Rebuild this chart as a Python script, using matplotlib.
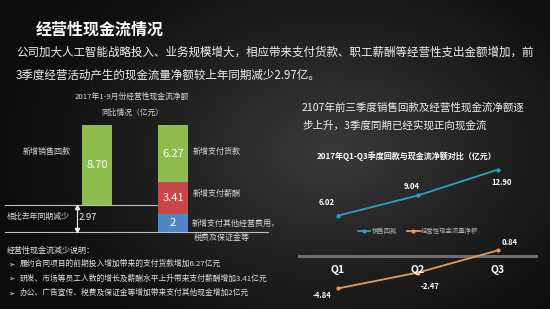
import numpy as np
import matplotlib
matplotlib.use("Agg")
import matplotlib.pyplot as plt
import matplotlib.transforms as mtransforms

plt.rcParams['font.family'] = ['Noto Sans CJK SC', 'DejaVu Sans']

# ---------------- data ----------------
waterfall_left_label = "新增销售回款"
sales_increase = 8.70
yoy_decrease = 2.97
pay_labels = ["新增支付其他经营费用，\n税费及保证金等", "新增支付薪酬", "新增支付货款"]
pay_values = [2, 3.41, 6.27]
pay_colors = ["#4f86c6", "#c9474a", "#8fbc4f"]

quarters = ["Q1", "Q2", "Q3"]
sales_q = [6.02, 9.04, 12.90]
cashflow_q = [-4.84, -2.47, 0.84]
series_names = ["销售回款", "经营性现金流量净额"]

notes = [
    "履约合同项目的前期投入增加带来的支付货款增加6.27亿元",
    "研发、市场等员工人数的增长及薪酬水平上升带来支付薪酬增加3.41亿元",
    "办公、广告宣传、税费及保证金等增加带来支付其他现金增加2亿元",
]

W, H = 550, 309
fig = plt.figure(figsize=(W / 100, H / 100), dpi=100)


def px_axes(x0, y0, x1, y1):
    return fig.add_axes([x0 / W, 1 - y1 / H, (x1 - x0) / W, (y1 - y0) / H])


def ftext(x, y, s, **kw):
    return fig.text(x / W, 1 - y / H, s, **kw)


# ---------------- background ----------------
bg = fig.add_axes([0, 0, 1, 1], zorder=-10)
yy, xx = np.mgrid[0:H, 0:W]
r = np.sqrt(((xx - 330) / 330.0) ** 2 + ((yy - 150) / 230.0) ** 2)
r = np.clip(r, 0, 1)
inner, outer = 0.23, 0.05
val = outer + (inner - outer) * (1 - r) ** 1.2
img = np.dstack([val, val, val])
bg.imshow(img, aspect='auto', extent=[0, W, H, 0])
bg.axis('off')

# ---------------- header texts ----------------
ftext(36, 30, "经营性现金流情况", color="white", fontsize=11.5, fontweight="bold", va="center")
ftext(16, 52, "公司加大人工智能战略投入、业务规模增大，相应带来支付货款、职工薪酬等经营性支出金额增加，前",
      color="#f0f0f0", fontsize=8.3, va="center")
ftext(16, 75, "3季度经营活动产生的现金流量净额较上年同期减少2.97亿。",
      color="#f0f0f0", fontsize=8.3, va="center")

# ---------------- left waterfall ----------------
axL = px_axes(0, 85, 275, 245)
axL.set_facecolor("none")
axL.set_xlim(-1.276, 2.342)
axL.set_ylim(-1.42, 16.05)
axL.axis('off')
bw = 0.395
axL.bar(0, sales_increase, bottom=yoy_decrease, width=bw, color="#8fbc4f", zorder=3)
bottom = 0
for v, c in zip(pay_values, pay_colors):
    axL.bar(1, v, bottom=bottom, width=bw, color=c, zorder=3)
    axL.text(1, bottom + v / 2, f"{v:g}" if v == int(v) else f"{v:.2f}", color="white",
             fontsize=8, ha="center", va="center", zorder=4)
    bottom += v
axL.text(0, yoy_decrease + sales_increase / 2, f"{sales_increase:.2f}", color="white",
         fontsize=8, ha="center", va="center", zorder=4)
axL.plot([-1.21, 0.80], [yoy_decrease, yoy_decrease], color="#bfbfbf", lw=0.8, zorder=2)
axL.plot([-1.21, 2.25], [0, 0], color="#bfbfbf", lw=0.8, zorder=2)
# double-headed arrow showing the decrease
ax_x = -0.263
axL.plot([ax_x, ax_x], [0.25, yoy_decrease - 0.25], color="#f0f0f0", lw=0.8, zorder=4)
axL.plot([ax_x], [yoy_decrease - 0.2], marker="^", ms=3, color="#f0f0f0", zorder=4)
axL.plot([ax_x], [0.2], marker="v", ms=3, color="#f0f0f0", zorder=4)
axL.text(-0.237, yoy_decrease / 2 + 0.1, f"{yoy_decrease:.2f}", color="#e8e8e8", fontsize=6.8,
         ha="left", va="center")
axL.text(-0.658, 8.75, waterfall_left_label, color="#d8d8d8", fontsize=5.8, ha="center", va="center")
label_y = [0.98, 4.26, 8.84]
for lab, ly in zip(pay_labels, label_y):
    if "\n" in lab:
        l1, l2 = lab.split("\n")
        axL.text(1.24, ly, l1, color="#d8d8d8", fontsize=5.8, ha="left", va="center")
        axL.text(1.27, ly - 1.55, l2, color="#d8d8d8", fontsize=5.8, ha="left", va="center")
    else:
        axL.text(1.263, ly, lab, color="#d8d8d8", fontsize=5.8, ha="left", va="center")

ftext(38, 216, "相比去年同期减少", color="#d8d8d8", fontsize=5.7, ha="center", va="center")
ftext(132, 97, "2017年1-9月份经营性现金流净额", color="#d8d8d8", fontsize=5.6, ha="center", va="center")
ftext(132, 113, "同比情况（亿元）", color="#d8d8d8", fontsize=5.6, ha="center", va="center")

# ---------------- bottom notes ----------------
ftext(7, 250, "经营性现金流减少说明：", color="#e0e0e0", fontsize=5.8, va="center")
for i, n in enumerate(notes):
    y = 264 + i * 14.5
    ftext(8, y, "➢", color="#e0e0e0", fontsize=5.5, va="center", family=["DejaVu Sans"])
    ftext(20, y, n, color="#e0e0e0", fontsize=5.6, va="center")

# ---------------- right texts ----------------
ftext(302, 107, "2107年前三季度销售回款及经营性现金流净额逐", color="#f0f0f0", fontsize=7.6, va="center")
ftext(302, 125, "步上升，3季度同期已经实现正向现金流", color="#f0f0f0", fontsize=7.6, va="center")
ftext(407, 156, "2017年Q1-Q3季度回款与现金流净额对比（亿元）", color="white", fontsize=5.8,
      fontweight="bold", ha="center", va="center")

# ---------------- right line chart ----------------
axR = px_axes(298, 160, 538, 300)
axR.set_facecolor("none")
axR.set_xlim(-0.5, 2.5)
axR.set_ylim(-6.57, 14.33)
axR.axis('off')
x = np.arange(len(quarters))
axR.axhline(0, color="#6e6e6e", lw=2.2, zorder=1)
l1, = axR.plot(x, sales_q, color="#2aa0c4", lw=1.3, marker="o", ms=2, zorder=3, label=series_names[0])
l2, = axR.plot(x, cashflow_q, color="#e59a5c", lw=1.3, marker="o", ms=2, zorder=3, label=series_names[1])

s_off = [(-11, 13), (-6, 9), (4, -13)]
c_off = [(-16, -7), (12, -14), (12, 8)]
for xi, v, (dx, dy) in zip(x, sales_q, s_off):
    axR.annotate(f"{v:.2f}", (xi, v), xytext=(dx * 0.72, dy * 0.72), textcoords="offset points",
                 color="white", fontsize=5.5, fontweight="bold", ha="center", va="center")
for xi, v, (dx, dy) in zip(x, cashflow_q, c_off):
    axR.annotate(f"{v:.2f}", (xi, v), xytext=(dx * 0.72, dy * 0.72), textcoords="offset points",
                 color="white", fontsize=5.5, fontweight="bold", ha="center", va="center")

trans = mtransforms.blended_transform_factory(axR.transData, axR.transAxes)
for xi, q in zip(x, quarters):
    axR.text(xi, (300 - 270) / 140, q, transform=trans, color="white", fontsize=7.5,
             fontweight="bold", ha="center", va="center", zorder=4)

leg = axR.legend(handles=[l1, l2], loc="center", bbox_to_anchor=(0.5, (300 - 231) / 140),
                 ncol=2, frameon=False, fontsize=4.6, handlelength=2.0, columnspacing=1.5,
                 handletextpad=0.2, labelcolor="#b0b0b0")

fig.savefig("out.png", dpi=100)
